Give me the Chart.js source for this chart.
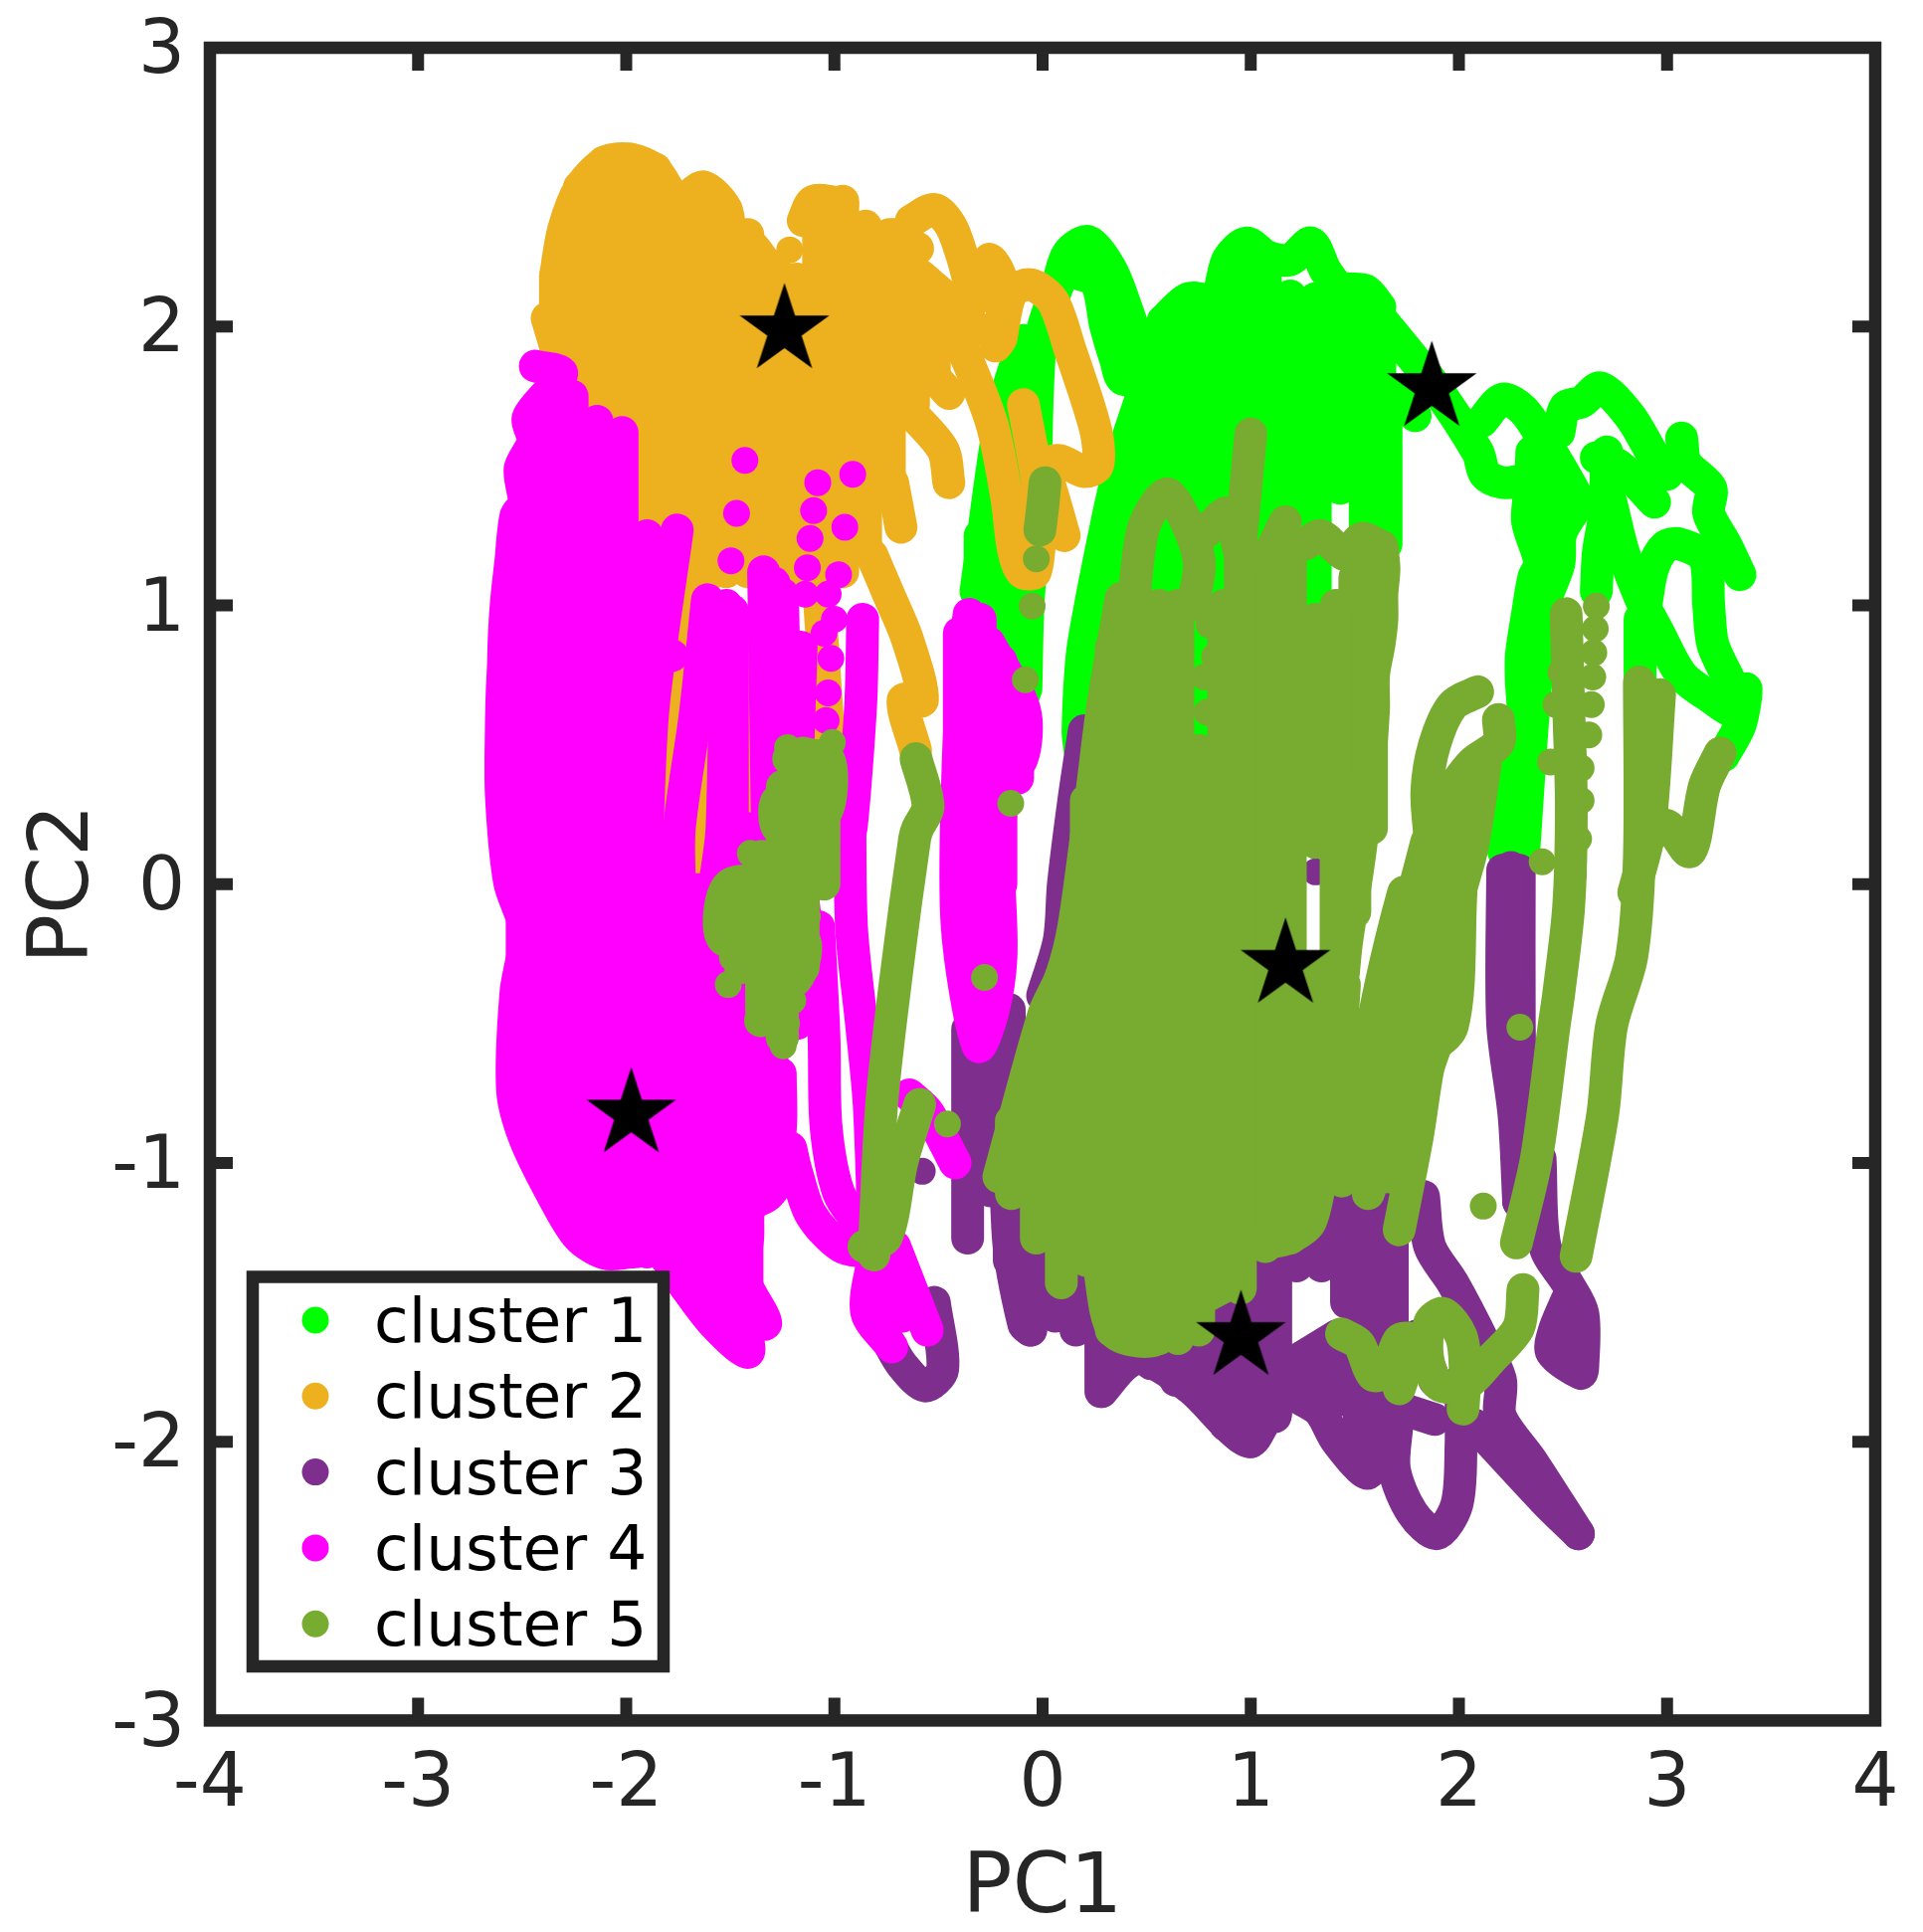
<!DOCTYPE html>
<html><head><meta charset="utf-8">
<style>html,body{margin:0;padding:0;background:#fff}canvas{display:block}</style>
<script src="https://cdn.jsdelivr.net/npm/chart.js@4"></script></head>
<body><canvas id="c" width="1933" height="1942"></canvas>
<script>
const clusterNames=['cluster 1','cluster 2','cluster 3','cluster 4','cluster 5'];
const clusterColors=['#00FF00','#EDB120','#7E2F8E','#FF00FF','#77AC30'];
const xTickValues=[-4,-3,-2,-1,0,1,2,3,4];
const yTickValues=[-3,-2,-1,0,1,2,3];
const centroids=[[1.87,1.78],[-1.24,1.987],[0.953,-1.624],[-1.976,-0.826],[1.167,-0.289]];

// each column = [x, top y, bottom y]; each stroke = list of [x,y] read along the trajectories
const cluster1Columns=[[-0.30,1.25,0.9],[-0.2,1.68,0.8],[-0.09,1.95,0.68],[0.58,2.02,0.9],[0.70,2.04,0.55],[0.76,1.5,0.55],[0.83,2.08,0.9],[0.95,2.24,0.9],[1.07,2.25,0.9],[1.19,2.11,0.9],[1.31,2.10,0.15],[1.43,2.12,1.42],[1.55,2.11,1.2],[1.65,1.66,1.22],[1.62,2.0,1.6]];
const cluster1Strokes=[
[[1.6,2.05],[1.87,1.8],[2.09,1.55],[2.126,1.47],[2.21,1.44],[2.33,1.44],[2.33,1.30],[2.39,1.15],[2.36,1.10],[2.33,0.97],[2.30,0.82],[2.30,0.73],[2.31,0.55],[2.26,0.43],[2.25,0.32],[2.21,0.135],[2.25,0.06]],
[[2.58,1.37],[2.49,1.26],[2.48,1.15],[2.41,1.0],[2.36,0.64],[2.31,0.1]],
[[2.35,1.55],[2.35,1.3],[2.47,1.3],[2.47,1.5]],
[[2.11,1.66],[2.21,1.74],[2.31,1.70],[2.41,1.59],[2.53,1.44],[2.58,1.37]],
[[2.48,1.62],[2.51,1.71],[2.59,1.73],[2.68,1.78],[2.82,1.68],[2.94,1.53],[3.0,1.47]],
[[2.66,1.53],[2.77,1.50],[2.94,1.37]],
[[2.71,1.55],[2.70,1.33],[2.67,1.19],[2.66,1.05]],
[[2.73,1.37],[2.79,1.19],[2.87,1.03],[2.96,0.90],[3.07,0.75],[3.21,0.67],[3.33,0.62],[3.38,0.70],[3.35,0.57],[3.27,0.46]],
[[2.9,1.01],[2.93,1.13],[2.99,1.21],[3.06,1.22],[3.18,1.17],[3.2,1.0],[3.22,0.86],[3.30,0.73]],
[[3.07,1.60],[3.09,1.51],[3.21,1.42],[3.2,1.33],[3.28,1.22],[3.35,1.11]],
[[2.87,0.73],[2.87,0.95]],
[[0.58,2.02],[0.70,2.10],[0.83,2.10],[0.89,2.24],[0.98,2.30],[1.08,2.25],[1.19,2.24],[1.29,2.30],[1.36,2.2],[1.43,2.14],[1.55,2.13],[1.62,2.07]],
[[0.073,2.15],[0.121,2.26],[0.219,2.305],[0.328,2.205],[0.40,2.07],[0.46,1.93],[0.51,1.79]],
[[0.121,2.2],[0.255,2.16],[0.304,2.0],[0.352,1.88],[0.389,1.81],[0.559,1.82]],
[[0.486,1.77],[0.389,1.55],[0.33,1.37],[0.28,1.19],[0.23,1.0],[0.19,0.82],[0.17,0.55],[0.18,0.48]],
[[0.52,1.72],[0.42,1.5],[0.36,1.3],[0.3,1.1],[0.25,0.9]],
[[0.364,1.18],[0.33,1.2]],
[[0.55,1.75],[0.56,1.64],[0.53,1.44],[0.47,1.22]],
[[0.073,2.15],[-0.01,1.95],[-0.04,1.3],[-0.07,1.0],[-0.08,0.7]],
[[-0.32,1.05],[-0.2,1.68],[-0.09,1.95]],
[[1.79,1.68],[1.7,1.75]]
];
const cluster2Columns=[[-2.34,2.18,1.93],[-2.225,2.5,1.44],[-2.107,2.59,1.44],[-1.98,2.6,1.28],[-1.86,2.565,1.12],[-1.746,2.45,1.12],[-1.63,2.5,0.96],[-1.52,2.42,1.12],[-1.416,2.33,1.12],[-1.30,2.215,1.12],[-1.18,2.17,1.12],[-1.076,2.45,1.12],[-0.96,2.45,1.12],[-0.85,2.36,1.2],[-0.736,2.33,1.44],[-0.62,2.15,1.72],[-0.52,2.1,1.85]];
const cluster2Strokes=[
[[-2.38,2.03],[-2.34,1.93]],
[[-2.34,2.18],[-2.3,2.35],[-2.22,2.5],[-2.1,2.59],[-1.98,2.6],[-1.86,2.56],[-1.75,2.45],[-1.63,2.5],[-1.52,2.42],[-1.49,2.3],[-1.41,2.3],[-1.3,2.2],[-1.18,2.15]],
[[-0.72,2.33],[-0.60,2.28]],
[[-0.63,2.38],[-0.52,2.42],[-0.44,2.36],[-0.385,2.25],[-0.32,2.10],[-0.258,2.24],[-0.2,2.17],[-0.2,1.96],[-0.226,1.93]],
[[-0.736,2.18],[-0.63,2.2],[-0.52,2.14],[-0.417,2.07],[-0.31,1.99]],
[[-0.61,1.91],[-0.52,1.82],[-0.45,1.76]],
[[-0.67,1.72],[-0.48,1.56],[-0.45,1.44]],
[[-0.417,1.98],[-0.247,1.66],[-0.173,1.39],[-0.14,1.20],[-0.10,1.12],[-0.035,1.12],[-0.013,1.28],[-0.024,1.44],[-0.092,1.72]],
[[-0.2,1.96],[-0.15,2.12],[-0.056,2.15],[0.05,2.09],[0.135,1.91],[0.22,1.72],[0.263,1.60],[0.263,1.50],[0.2,1.48],[0.08,1.52],[-0.003,1.50],[0.03,1.44],[0.104,1.25]],
[[-0.72,1.44],[-0.68,1.28]],
[[-0.82,1.18],[-0.74,1.04],[-0.65,0.88],[-0.577,0.66],[-0.67,0.66],[-0.61,0.48]],
[[-1.72,1.2],[-1.80,0.5],[-1.81,0.05]],
[[-1.58,1.0],[-1.66,0.05]],
[[-1.46,0.88],[-1.40,0.15]],
[[-1.07,1.0],[-1.03,0.55]],
[[-1.15,2.38],[-1.10,2.45],[-0.96,2.44]]
];
const cluster2Dots=[[-1.215,2.275],[-1.15,2.38]];
const cluster3Columns=[[-0.36,-0.52,-1.27],[-0.25,-0.45,-1.1],[-0.16,-0.45,-1.35],[-0.06,-0.6,-1.6],[0.06,-0.5,-1.55],[0.16,-0.8,-1.6],[0.28,-1.0,-1.82],[0.40,-1.0,-1.72],[0.52,-1.0,-1.72],[0.64,-1.0,-1.78],[0.76,-1.0,-1.83],[0.88,-1.0,-1.94],[1.0,-1.0,-2.0],[1.12,-1.0,-1.9],[1.22,-1.0,-1.37],[1.34,-1.0,-1.37],[1.46,-0.75,-1.5],[1.52,-0.9,-1.95],[1.42,-1.7,-1.85],[1.68,-0.95,-1.75]];
const cluster3Strokes=[
[[0.2,0.55],[0.15,0.3],[0.1,0.0],[0.08,-0.2],[0.0,-0.4]],
[[1.15,-1.74],[1.415,-1.62]],
[[1.245,-1.795],[1.46,-1.72]],
[[1.224,-1.84],[1.33,-1.89],[1.415,-2.0],[1.564,-2.113],[1.585,-1.94],[1.585,-1.8]],
[[1.63,-1.86],[1.883,-1.92]],
[[1.6,-1.46],[1.585,-1.94]],
[[1.66,-1.14],[1.65,-1.62],[1.70,-1.78]],
[[1.8,-1.62],[1.883,-1.78]],
[[1.702,-1.94],[1.69,-2.1],[1.776,-2.256],[1.894,-2.33],[1.99,-2.225],[2.01,-2.02],[2.01,-1.78]],
[[1.83,-1.12],[1.86,-1.30],[1.97,-1.43],[2.117,-1.64],[2.2,-1.78],[2.2,-1.91],[2.35,-2.07],[2.574,-2.33]],
[[2.075,-1.94],[2.41,-2.21],[2.574,-2.33]],
[[2.25,0.06],[2.25,-0.39]],
[[2.21,0.05],[2.21,-0.5],[2.265,-0.83],[2.287,-1.14]],
[[2.29,0.05],[2.29,-0.5],[2.3,-0.9],[2.287,-1.14]],
[[2.39,-0.985],[2.414,-1.30],[2.52,-1.43],[2.595,-1.54],[2.595,-1.73],[2.585,-1.755],[2.446,-1.68],[2.457,-1.605],[2.52,-1.49]],
[[1.46,-0.75],[1.405,-0.985]],
[[-0.19,-0.455],[-0.165,-1.265],[-0.09,-1.58],[-0.056,-1.6]],
[[-0.52,-1.5],[-0.48,-1.74],[-0.565,-1.80],[-0.675,-1.725],[-0.75,-1.63]],
[[0.284,-1.82],[0.395,-1.725],[0.48,-1.70],[0.714,-1.81],[0.905,-1.955],[1.0,-2.0],[1.075,-1.92],[1.117,-1.91]]
];
const cluster3Dots=[[-0.578,-1.03],[1.312,0.044]];
const cluster4Columns=[[-2.5,1.35,-0.85],[-2.38,1.75,-1.05],[-2.26,1.75,-1.22],[-2.14,1.66,-1.30],[-2.02,1.62,-1.32],[-1.90,1.25,-1.32],[-1.78,-0.02,-1.36],[-1.66,-0.02,-1.5],[-1.54,-0.02,-1.6],[-1.42,0.2,-1.65],[-1.3,0.2,-1.1],[-1.18,0.2,-0.5],[-1.49,0.98,0.1],[-1.29,1.08,0.1],[-0.4,0.9,0.0],[-0.3,0.95,-0.5],[-0.2,0.76,0.0],[-0.12,0.62,0.38]];
const cluster4Strokes=[
[[-2.437,1.858],[-2.31,1.83],[-2.47,1.675],[-2.447,1.588],[-2.51,1.49],[-2.49,1.365],[-2.53,1.32],[-2.554,1.16],[-2.575,1.016],[-2.586,0.89],[-2.59,0.786],[-2.596,0.69],[-2.6,0.57],[-2.6,0.32],[-2.56,0.006],[-2.485,-0.17],[-2.53,-0.39],[-2.546,-0.74],[-2.485,-0.915],[-2.35,-1.12],[-2.23,-1.265],[-2.10,-1.325],[-1.975,-1.32],[-1.84,-1.32],[-1.72,-1.44],[-1.575,-1.58],[-1.416,-1.68],[-1.416,-1.58],[-1.33,-1.575],[-1.43,-1.42],[-1.416,-1.265],[-1.405,-1.155],[-1.31,-1.106],[-1.26,-0.88],[-1.26,-0.68]],
[[-1.755,1.27],[-1.87,0.64],[-1.90,0.2]],[[-1.78,0.82],[-1.86,0.8]],
[[-1.61,1.02],[-1.67,0.6],[-1.745,0.2],[-1.745,0.0]],
[[-1.52,1.0],[-1.54,0.2],[-1.574,0.0]],
[[-1.34,1.12],[-1.32,0.1]],[[-1.25,1.04],[-1.22,0.1]],[[-1.16,0.85],[-1.18,0.2],[-1.13,-0.2]],
[[-0.864,0.95],[-0.874,0.64],[-0.92,0.2],[-0.926,0.324]],
[[-0.926,0.324],[-0.918,-0.153],[-0.87,-0.50],[-0.833,-0.79],[-0.81,-1.265]],
[[-1.076,-0.153],[-1.05,-0.55],[-1.04,-0.87],[-0.98,-1.106],[-0.87,-1.23]],
[[-1.21,-0.947],[-1.185,-1.026],[-1.113,-1.185],[-0.967,-1.30],[-0.82,-1.32]],
[[-0.81,-1.33],[-0.845,-1.535],[-0.724,-1.66]],
[[-0.71,-1.30],[-0.554,-1.60]],[[-0.675,-1.55],[-0.78,-1.4]],
[[-0.64,-0.756],[-0.55,-0.82],[-0.42,-1.0]],
[[-0.353,0.968],[-0.375,0.83],[-0.407,0.40],[-0.41,-0.153],[-0.31,-0.58],[-0.24,-0.46],[-0.2,-0.264],[-0.21,0.006],[-0.24,0.324],[-0.1,0.45],[-0.088,0.627],[-0.258,0.865]],
[[-0.31,0.9],[-0.31,-0.5]],[[-0.2,0.8],[-0.2,0.4]]
];
const cluster4Dots=[[-1.43,1.52],[-1.47,1.33],[-1.497,1.16],[-1.08,1.44],[-0.912,1.47],[-1.10,1.34],[-0.95,1.28],[-1.117,1.24],[-1.13,1.135],[-0.98,1.11],[-1.14,1.04],[-1.03,1.04],[-1.0,0.95],[-1.05,0.90],[-1.017,0.81],[-1.03,0.686],[-1.04,0.587],[-1.16,0.75],[-1.19,0.67],[-1.18,0.58]];
const cluster5Columns=[[-0.15,-0.85,-1.11],[-0.03,-0.6,-1.27],[0.09,-0.33,-1.43],[0.21,0.3,-1.35],[0.33,0.85,-1.6],[0.45,1.04,-1.62],[0.56,1.0,-1.63],[0.65,1.0,-1.63],[0.75,0.48,-1.6],[0.87,1.0,-1.43],[0.95,1.2,-1.45],[1.07,1.17,-1.3],[1.19,1.15,-1.27],[1.31,0.95,0.15],[1.31,-0.3,-1.0],[1.41,1.0,-0.33],[1.5,1.1,-0.1],[1.58,1.15,0.2],[-1.45,0.0,-0.3],[-1.35,0.1,-0.45],[-1.25,0.35,-0.55],[-1.15,0.47,-0.3],[-1.05,0.45,0.0]];
const cluster5Strokes=[
[[-0.21,-1.05],[0.005,-0.47],[0.09,-0.33],[0.15,-0.153],[0.236,0.324],[0.29,0.643],[0.377,1.025]],
[[1.66,-1.05],[1.85,-0.45],[1.95,-0.2]],[[1.5,-1.0],[1.72,-0.4],[1.82,-0.1]],
[[0.44,1.04],[0.486,1.28],[0.595,1.40],[0.69,1.30],[0.753,1.15],[0.72,1.0]],
[[0.78,1.26],[0.887,1.33],[0.947,1.19]],
[[1.0,1.615],[0.947,1.19]],
[[1.166,1.30],[1.08,1.17]],
[[1.263,1.22],[1.336,1.25],[1.46,1.18],[1.53,1.24],[1.63,1.21]],
[[1.63,1.21],[1.64,1.13],[1.63,1.04],[1.63,0.95],[1.616,0.86],[1.59,0.75],[1.59,0.634],[1.58,0.515],[1.567,0.40],[1.543,0.27],[1.53,0.145],[1.506,0.017],[1.482,-0.10],[1.458,-0.22],[1.445,-0.32]],
[[1.45,-0.36],[1.437,-0.51],[1.415,-0.75],[1.373,-0.86],[1.35,-0.985],[1.287,-1.21],[1.18,-1.27],[1.075,-1.287]],
[[0.267,-1.35],[0.342,-1.605],[0.533,-1.637],[0.607,-1.557],[0.905,-1.43]],
[[1.436,-1.065],[1.628,-0.35],[1.734,-0.03],[1.737,-0.055]],
[[1.564,-1.11],[1.8,-0.636],[1.968,-0.51],[2.01,-0.03]],
[[1.88,-0.03],[1.776,-0.51],[1.5,-1.05]],
[[1.713,-1.24],[1.8,-0.906],[1.85,-0.667],[1.883,-0.59]],
[[2.09,0.69],[1.968,0.64],[1.883,0.50],[1.846,0.335],[1.86,0.17]],
[[2.19,0.59],[2.19,0.507],[2.065,0.435],[1.968,0.344]],
[[2.126,0.426],[2.065,0.135],[1.99,-0.083],[1.956,-0.39]],
[[1.846,0.153],[1.773,-0.05],[1.676,-0.265]],
[[1.96,0.3],[1.88,-0.05]],
[[2.515,0.97],[2.527,0.644],[2.54,0.28],[2.527,-0.083],[2.48,-0.39],[2.457,-0.51],[2.372,-0.985],[2.276,-1.287]],
[[2.867,0.725],[2.867,0.10],[2.83,-0.26],[2.733,-0.51],[2.69,-0.83],[2.563,-1.335]],
[[2.964,0.68],[2.915,0.19],[2.84,-0.03]],
[[3.255,0.47],[3.18,0.353],[3.11,0.117],[3.0,0.21],[2.915,0.17]],
[[2.308,-1.454],[2.287,-1.59],[2.16,-1.70],[2.03,-1.796],[1.904,-1.796],[1.85,-1.70],[1.86,-1.573],[1.925,-1.54],[2.01,-1.62],[2.03,-1.73],[2.02,-1.883]],
[[1.436,-1.613],[1.52,-1.65],[1.585,-1.76],[1.65,-1.748],[1.713,-1.636],[1.776,-1.636],[1.734,-1.763],[1.713,-1.81]],
[[0.012,1.44],[0.0,1.35],[-0.013,1.27]],
[[-0.608,0.45],[-0.55,0.28],[-0.6,0.2],[-0.614,0.165],[-0.70,-0.31],[-0.773,-0.79],[-0.81,-1.33]],
[[-0.59,-0.79],[-0.675,-0.995],[-0.75,-1.265],[-0.858,-1.30]],
[[-1.22,0.45],[-1.03,0.45],[-1.05,0.25],[-1.27,0.3],[-1.27,0.2],[-1.08,0.15],[-1.1,0.0],[-1.5,0.0],[-1.53,-0.2],[-1.15,-0.2],[-1.2,-0.35],[-1.45,-0.25],[-1.3,-0.35],[-1.355,-0.49]],
[[-1.3,-0.35],[-1.25,-0.55]]
];
const cluster5Dots=[[-1.404,0.11],[-1.51,-0.36],[-1.49,-0.264],[-1.246,-0.58],[-1.23,-0.50],[-1.2,-0.418],[-1.18,-0.327],[-1.16,-0.224],[-1.13,-0.116],[-1.10,0.0],[-1.076,0.125],[-1.064,0.25],[-1.225,0.49],[-1.12,0.476],[-1.01,0.508],[-1.03,0.37],[-0.457,-0.86],[-0.279,-0.335],[-0.153,0.29],[-0.03,1.167],[-0.05,0.997],[-0.083,0.733],[0.8,0.93],[0.826,0.816],[0.777,0.743],[0.79,0.616],[2.66,0.997],[2.655,0.916],[2.648,0.83],[2.643,0.743],[2.636,0.644],[2.624,0.535],[2.587,0.416],[2.587,0.30],[2.575,0.162],[2.55,0.035],[2.54,-0.09],[2.466,0.644],[2.44,0.438],[2.49,0.76],[2.40,0.08],[2.293,-0.513],[2.117,-1.155]];

const allColumns=[cluster1Columns,cluster2Columns,cluster3Columns,cluster4Columns,cluster5Columns];
const allStrokes=[cluster1Strokes,cluster2Strokes,cluster3Strokes,cluster4Strokes,cluster5Strokes];
const allDots=[[],cluster2Dots,cluster3Dots,cluster4Dots,cluster5Dots];

const R=13.5, STROKE=33, AXIS='#262626';
function starImage(){const s=document.createElement('canvas');s.width=s.height=100;const g=s.getContext('2d');g.fillStyle='#000';g.beginPath();
 for(let i=0;i<10;i++){const r=i%2?47.4*0.382:47.4,a=-Math.PI/2+i*Math.PI/5;g.lineTo(50+r*Math.cos(a),50+r*Math.sin(a));}
 g.closePath();g.fill();return s;}

const datasets=[];
clusterNames.forEach((name,i)=>{
 const col=clusterColors[i],order=100-i*10;
 const strokes=allStrokes[i].concat(allColumns[i].map(c=>[[c[0],c[1]],[c[0],c[2]]]));
 strokes.forEach(st=>datasets.push({label:name,data:st,showLine:true,tension:0.3,borderColor:col,backgroundColor:col,borderWidth:STROKE,borderCapStyle:'round',borderJoinStyle:'round',pointRadius:R,pointBorderWidth:0,pointBackgroundColor:col,order}));
 if(allDots[i].length)datasets.push({label:name,data:allDots[i],showLine:false,backgroundColor:col,pointRadius:R,pointBorderWidth:0,pointBackgroundColor:col,order});
});
datasets.push({label:'centroids',data:centroids,showLine:false,pointStyle:starImage(),pointRadius:47,order:0});

const framePlugin={id:'frame',afterDatasetsDraw(ch){
 const g=ch.ctx,a=ch.chartArea,x=ch.scales.x,y=ch.scales.y;g.save();
 g.strokeStyle=AXIS;g.lineWidth=12.5;g.strokeRect(a.left,a.top,a.right-a.left,a.bottom-a.top);
 g.lineWidth=12;g.beginPath();
 xTickValues.slice(1,-1).forEach(v=>{const p=x.getPixelForValue(v);g.moveTo(p,a.bottom);g.lineTo(p,a.bottom-23);g.moveTo(p,a.top);g.lineTo(p,a.top+23);});
 yTickValues.slice(1,-1).forEach(v=>{const p=y.getPixelForValue(v);g.moveTo(a.left,p);g.lineTo(a.left+23,p);g.moveTo(a.right,p);g.lineTo(a.right-23,p);});
 g.stroke();
 // legend box
 g.fillStyle='#fff';g.fillRect(254,1283.5,413,391.5);
 g.lineWidth=12.5;g.strokeRect(254,1283.5,413,391.5);
 g.font='63px "DejaVu Sans"';g.textBaseline='alphabetic';g.textAlign='left';
 clusterNames.forEach((n,i)=>{const yy=1327+i*76.3;g.fillStyle=clusterColors[i];g.beginPath();g.arc(317,yy,13.5,0,7);g.fill();g.fillStyle='#000';g.fillText(n,376,yy+22);});
 g.restore();
}};
const fix=(k,v)=>s=>{s[k]=v;s.paddingLeft=s.paddingRight=s.paddingTop=s.paddingBottom=0;};
new Chart(document.getElementById('c'),{type:'scatter',data:{datasets},plugins:[framePlugin],options:{
 responsive:false,animation:false,devicePixelRatio:1,events:[],
 layout:{padding:{left:0,top:47.7,right:41.5,bottom:0}},
 plugins:{legend:{display:false},tooltip:{enabled:false}},
 scales:{
  x:{type:'linear',min:-4,max:4,afterFit:fix('height',212.6),grid:{display:false,drawTicks:false},border:{display:false},
     afterBuildTicks:a=>{a.ticks=xTickValues.map(value=>({value}));},
     ticks:{color:AXIS,font:{family:'"DejaVu Sans"',size:74},padding:22,maxRotation:0,autoSkip:false,callback:v=>String(v)},
     title:{display:true,text:'PC1',color:AXIS,font:{family:'"DejaVu Sans"',size:83,lineHeight:1},padding:{top:0,bottom:0}}},
  y:{type:'linear',min:-3,max:3,afterFit:fix('width',211),grid:{display:false,drawTicks:false},border:{display:false},
     afterBuildTicks:a=>{a.ticks=yTickValues.map(value=>({value}));},
     ticks:{color:AXIS,font:{family:'"DejaVu Sans"',size:74},padding:25,labelOffset:6,autoSkip:false,callback:v=>String(v)},
     title:{display:true,text:'PC2',color:AXIS,font:{family:'"DejaVu Sans"',size:83,lineHeight:1},padding:{top:25,bottom:0}}}
 }}});
</script></body></html>
